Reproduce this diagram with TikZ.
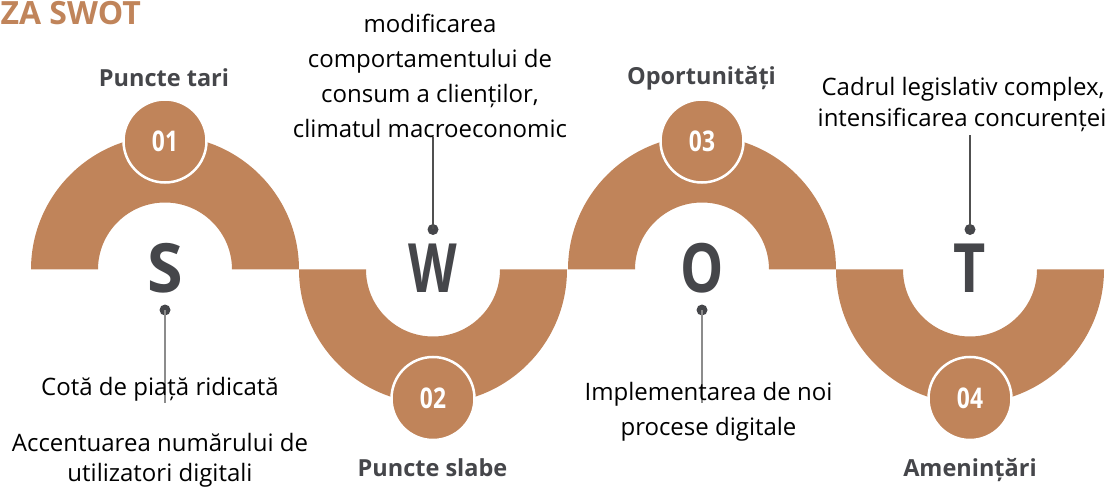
\documentclass[tikz,border=0pt]{standalone}
\usepackage{fontspec}
\setmainfont{Open Sans}
\definecolor{swotbrown}{HTML}{C0845A}
\definecolor{swotgray}{HTML}{45464A}
\definecolor{leadlight}{HTML}{8C8C8C}
\definecolor{leaddark}{HTML}{505050}
\tikzset{
  arch/.style={fill=swotbrown},
  numcirc/.style={circle, fill=swotbrown, draw=white, line width=2.5pt, minimum size=83pt, inner sep=0pt, text=white, font=\bfseries\fontsize{28.5}{30}\selectfont},
  letter/.style={anchor=base, inner sep=0pt, text=swotgray, font=\bfseries\fontsize{68}{70}\selectfont},
  title/.style={anchor=base, inner sep=0pt, text=swotgray, font=\bfseries\fontsize{23.5}{26}\selectfont},
  body/.style={anchor=base, inner sep=0pt, text=black, font=\fontsize{24}{28}\selectfont},
  dotnode/.style={circle, fill=swotgray, inner sep=0pt, minimum size=11pt},
  leaderlight/.style={draw=leadlight, line width=1.3pt},
  leaderdark/.style={draw=leaddark, line width=1.3pt},
}
\newcommand{\cond}[2][0.8]{\scalebox{#1}[1]{#2}}
\begin{document}
\begin{tikzpicture}[x=1pt,y=-1pt]
\useasboundingbox (0,0) rectangle (1109,489);
% arches
\fill[arch] (31,269.5) arc[start angle=180,end angle=360,radius=134] -- (232,269.5) arc[start angle=360,end angle=180,radius=67] -- cycle;
\fill[arch] (299,269.5) arc[start angle=180,end angle=0,radius=134] -- (500,269.5) arc[start angle=0,end angle=180,radius=67] -- cycle;
\fill[arch] (568,269.5) arc[start angle=180,end angle=360,radius=134] -- (769,269.5) arc[start angle=360,end angle=180,radius=67] -- cycle;
\fill[arch] (836,269.5) arc[start angle=180,end angle=0,radius=134] -- (1037,269.5) arc[start angle=0,end angle=180,radius=67] -- cycle;
% number circles
\node[numcirc] (n1) at (165,141) {\cond{01}};
\node[numcirc] (n2) at (433,398.5) {\cond{02}};
\node[numcirc] (n3) at (702,141) {\cond{03}};
\node[numcirc] (n4) at (970,398.5) {\cond{04}};
% letters
\node[letter] (S) at (165,292) {\cond[0.95]{S}};
\node[letter] (W) at (433,292) {\cond[0.74]{W}};
\node[letter] (O) at (702,292) {\cond[0.8]{O}};
\node[letter] (T) at (970,292) {\cond[0.82]{T}};
% title
\node[anchor=base east, inner sep=0pt, text=swotbrown, font=\bfseries\fontsize{32}{34}\selectfont] (hdr) at (141,25) {ZA SWOT};
% category titles
\node[title] (t1) at (164,87) {Puncte tari};
\node[title] (t2) at (432.5,476) {Puncte slabe};
\node[title] (t3) at (701.5,85) {Oportunități};
\node[title] (t4) at (970,476) {Amenințări};
% leaders
\node[dotnode] (d1) at (165,310) {};
\coordinate (e1) at (165,403);
\draw[leaderlight] (d1.center) -- (e1);
\node[dotnode] (d2) at (433,229.5) {};
\coordinate (e2) at (433,137);
\draw[leaderdark] (d2.center) -- (e2);
\node[dotnode] (d3) at (702,310) {};
\coordinate (e3) at (702,403);
\draw[leaderlight] (d3.center) -- (e3);
\node[dotnode] (d4) at (970,229.5) {};
\coordinate (e4) at (970,135);
\draw[leaderdark] (d4.center) -- (e4);
% body texts
\node[body] (s1) at (160,395) {Cotă de piață ridicată};
\node[body] (s2a) at (160,451) {Accentuarea numărului de};
\node[body] (s2b) at (160,481) {utilizatori digitali};
\node[body] (w1) at (430,33) {modificarea};
\node[body] (w2) at (430,68) {comportamentului de};
\node[body] (w3) at (430,103) {consum a clienților,};
\node[body] (w4) at (430,138) {climatul macroeconomic};
\node[body] (o1) at (708.5,400) {Implementarea de noi};
\node[body] (o2) at (708.5,435) {procese digitale};
\node[body] (x1) at (963,96) {Cadrul legislativ complex,};
\node[body] (x2) at (962,127) {intensificarea concurenței};
\end{tikzpicture}
\end{document}
